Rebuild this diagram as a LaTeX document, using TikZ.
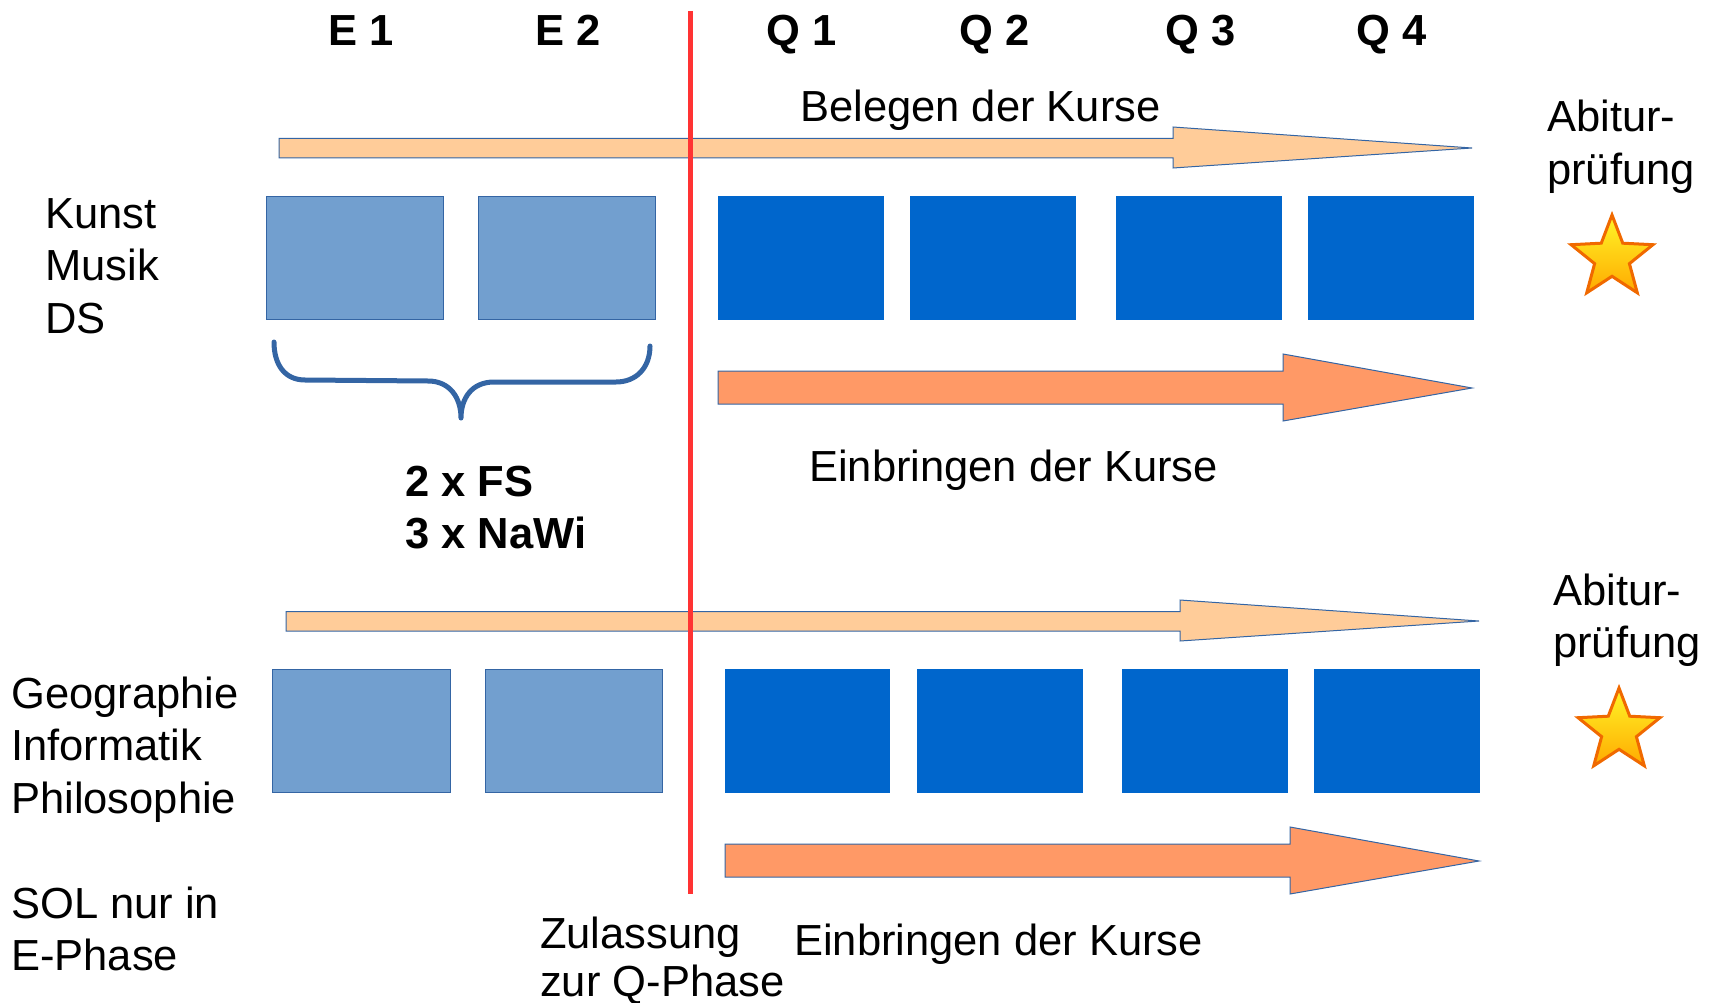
\documentclass[tikz,border=0pt]{standalone}
\usepackage{fontspec}
\setmainfont{Liberation Sans}
\usetikzlibrary{shapes.geometric}
\definecolor{lightbox}{RGB}{114,159,207}
\definecolor{darkbox}{RGB}{0,102,204}
\definecolor{outl}{RGB}{52,101,164}
\definecolor{lightor}{RGB}{255,204,153}
\definecolor{darkor}{RGB}{255,153,102}
\definecolor{redline}{RGB}{255,51,51}
\tikzset{
  txt/.style={anchor=base west,inner sep=0pt,font=\fontsize{43.5}{52}\selectfont},
  hdr/.style={anchor=base,inner sep=0pt,font=\fontsize{43.5}{52}\selectfont\bfseries},
  ebox/.style={fill=lightbox,draw=outl,line width=0.8pt},
  qbox/.style={fill=darkbox,draw=darkbox,line width=0.5pt},
  larrow/.style={fill=lightor,draw=outl,line width=1pt,line join=miter},
  darrow/.style={fill=darkor,draw=outl,line width=1pt,line join=miter},
  bracestyle/.style={draw=outl,line width=5pt,line cap=round,line join=round},
  starnode/.style={star,star points=5,star point ratio=2.35,minimum size=86pt,inner sep=0pt,
    draw={rgb,255:red,240;green,105;blue,0},line width=3pt,
    top color={rgb,255:red,255;green,245;blue,40},bottom color={rgb,255:red,255;green,170;blue,0}},
}
\begin{document}
\begin{tikzpicture}[x=1pt,y=-1pt]
\useasboundingbox (0,0) rectangle (1715,1003);
% headers
\node[hdr] (e1) at (361,46) {E 1};
\node[hdr] (e2) at (568,46) {E 2};
\node[hdr] (q1) at (802,46) {Q 1};
\node[hdr] (q2) at (995,46) {Q 2};
\node[hdr] (q3) at (1201,46) {Q 3};
\node[hdr] (q4) at (1392,46) {Q 4};
% upper section
\draw[larrow] (279,138.5) -- (1173,138.5) -- (1173,127) -- (1472,148) -- (1173,168) -- (1173,158) -- (279,158) -- cycle;
\node[txt] (beleg) at (800,122) {Belegen der Kurse};
\node[txt] (abi1) at (1547,132) {Abitur-};
\node[txt] (pr1) at (1547,184.5) {prüfung};
\node[starnode] (star1) at (1612,258) {};
\node[txt] (kunst) at (45,228) {Kunst};
\node[txt] (musik) at (45,280.5) {Musik};
\node[txt] (ds) at (45,333) {DS};
\fill[ebox] (266,196) rectangle (443,319);
\fill[ebox] (478,196) rectangle (655,319);
\fill[qbox] (718,196) rectangle (883,319);
\fill[qbox] (910,196) rectangle (1075,319);
\fill[qbox] (1116,196) rectangle (1281,319);
\fill[qbox] (1308,196) rectangle (1473,319);
\draw[darrow] (718,371) -- (1283,371) -- (1283,354) -- (1472,388) -- (1283,421) -- (1283,404) -- (718,404) -- cycle;
\draw[bracestyle] (274,342) .. controls (274,365) and (285,380) .. (305,380) -- (428,381) .. controls (450,381) and (461,398) .. (461,418) .. controls (461,398) and (472,382) .. (494,382) -- (616,382) .. controls (636,382) and (650,368) .. (650,346);
\node[txt,font=\fontsize{43.5}{52}\selectfont\bfseries] (fs) at (405,496) {2 x FS};
\node[txt,font=\fontsize{43.5}{52}\selectfont\bfseries] (nawi) at (405,548) {3 x NaWi};
\node[txt] (ein1) at (809,481) {Einbringen der Kurse};
% lower section
\draw[larrow] (286,611.5) -- (1180,611.5) -- (1180,600) -- (1479,621) -- (1180,641) -- (1180,631) -- (286,631) -- cycle;
\node[txt] (abi2) at (1553,605) {Abitur-};
\node[txt] (pr2) at (1553,657.5) {prüfung};
\node[starnode] (star2) at (1619,731) {};
\node[txt] (geo) at (11,708) {Geographie};
\node[txt] (inf) at (11,760.5) {Informatik};
\node[txt] (phil) at (11,813) {Philosophie};
\fill[ebox] (272,669) rectangle (450,792);
\fill[ebox] (485,669) rectangle (662,792);
\fill[qbox] (725,669) rectangle (889,792);
\fill[qbox] (917,669) rectangle (1082,792);
\fill[qbox] (1122,669) rectangle (1287,792);
\fill[qbox] (1314,669) rectangle (1479,792);
\draw[darrow] (725,844) -- (1290,844) -- (1290,827) -- (1479,861) -- (1290,894) -- (1290,877) -- (725,877) -- cycle;
\node[txt] (sol) at (11,918) {SOL nur in};
\node[txt] (ephase) at (11,970) {E-Phase};
\node[txt] (zul) at (540,948) {Zulassung};
\node[txt] (zurq) at (540,996) {zur Q-Phase};
\node[txt] (ein2) at (794,955) {Einbringen der Kurse};
% red line
\coordinate (rtop) at (690,11);
\coordinate (rbot) at (690,894);
\draw[redline,line width=5pt] (rtop) -- (rbot);
\end{tikzpicture}
\end{document}
